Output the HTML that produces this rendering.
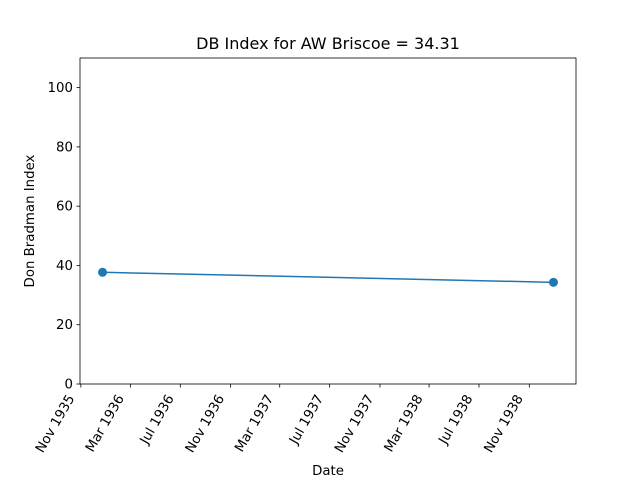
<!DOCTYPE html>
<html><head><meta charset="utf-8"><style>body{margin:0;background:#fff}svg{display:block;font-family:"DejaVu Sans","Liberation Sans",sans-serif}</style></head>
<body>
<svg id="c" width="640" height="480"></svg>
<script>
const dates=["1935-12-24","1938-12-30"];
const values=[37.7,34.31];
const yTicks=[0,20,40,60,80,100];
const xTickLabels=["Nov 1935","Mar 1936","Jul 1936","Nov 1936","Mar 1937","Jul 1937","Nov 1937","Mar 1938","Jul 1938","Nov 1938"];
const xTickDates=["1935-11-01","1936-03-01","1936-07-01","1936-11-01","1937-03-01","1937-07-01","1937-11-01","1938-03-01","1938-07-01","1938-11-01"];
const NS="http://www.w3.org/2000/svg";
const svg=document.getElementById('c');
const L=80,R=576,T=58,B=384;
const t=d=>Date.parse(d);
const d0=t(dates[0]),d1=t(dates[dates.length-1]),m=(d1-d0)*0.05;
const xmin=d0-m,xmax=d1+m;
const X=d=>L+(t(d)-xmin)/(xmax-xmin)*(R-L);
const Y=v=>B-v/110*(B-T);
function el(n,a,txt){const e=document.createElementNS(NS,n);for(const k in a)e.setAttribute(k,a[k]);if(txt!==undefined)e.textContent=txt;svg.appendChild(e);return e;}
let e=el('text',{x:328,y:49,'font-size':16,'text-anchor':'middle'},'DB Index for AW Briscoe = 34.31');


yTicks.forEach(v=>{const y=Y(v);
let k=el('line',{x1:L-3.5,x2:L,y1:y,y2:y,stroke:'#000','stroke-width':0.8});


let l=el('text',{x:L-7,y:y+4.5,'font-size':13.33,'text-anchor':'end'},String(v));

});
xTickDates.forEach((d,i)=>{const x=X(d);
let k=el('line',{x1:x,x2:x,y1:B,y2:B+3.5,stroke:'#000','stroke-width':0.8});


const ax=x-6,ay=B+14;
let l=el('text',{x:ax,y:ay,'font-size':13.33,'text-anchor':'end',transform:`rotate(-60 ${ax} ${ay})`},xTickLabels[i]);

});
const pts=dates.map((d,i)=>X(d)+','+Y(values[i])).join(' ');
let pl=el('polyline',{points:pts,fill:'none',stroke:'#1f77b4','stroke-width':1.5});


dates.forEach((d,i)=>{let c=el('circle',{cx:X(d),cy:Y(values[i]),r:4.5,fill:'#1f77b4'});

});
let fr=el('rect',{x:L,y:T,width:R-L,height:B-T,fill:'none',stroke:'#000','stroke-width':0.8});


let xt=el('text',{x:328,y:475,'font-size':13.33,'text-anchor':'middle'},'Date');


let yt=el('text',{x:34,y:221,'font-size':13.33,'text-anchor':'middle',transform:'rotate(-90 34 221)'},'Don Bradman Index');


</script>
</body></html>
